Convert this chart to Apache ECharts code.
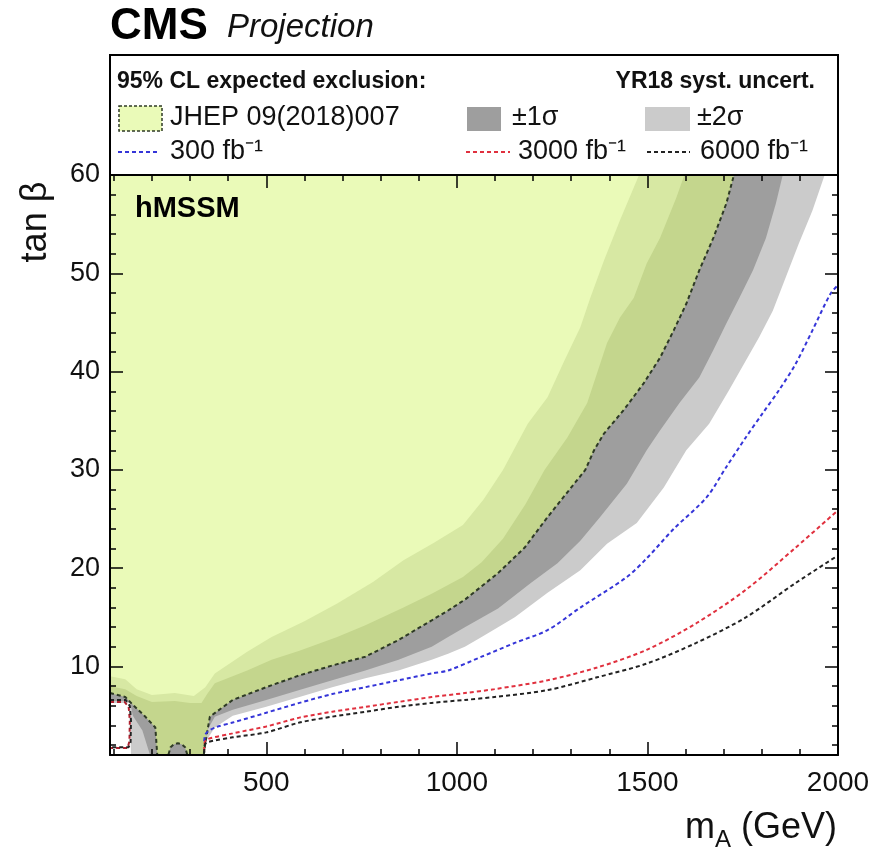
<!DOCTYPE html>
<html>
<head>
<meta charset="utf-8">
<title>CMS Projection hMSSM</title>
<script src="https://cdn.jsdelivr.net/npm/echarts@6/dist/echarts.min.js"></script>
<style>
html, body { margin: 0; padding: 0; background: #fff; }
#main { width: 877px; height: 850px; }
</style>
</head>
<body>
<div id="main"></div>
<script>
// contours, [mA (GeV), tan beta]
var jhepInner = [[90, 9.0], [130, 8.7], [160, 7.7], [200, 7.1], [260, 7.3], [310, 7.0], [340, 7.9], [365, 9.3], [450, 11.5], [514, 13.0], [600, 14.6], [686, 16.4], [780, 18.6], [860, 20.8], [940, 22.6], [1016, 24.4], [1070, 27.0], [1121, 30.0], [1186, 34.7], [1238, 37.4], [1282, 41.1], [1324, 44.5], [1350, 47.5], [1386, 51.3], [1428, 55.4], [1478, 60]]
var jhepMid = [[90, 8.0], [130, 7.7], [160, 7.0], [200, 6.4], [260, 6.5], [300, 6.3], [330, 6.3], [345, 7.2], [365, 8.3], [450, 9.6], [514, 10.7], [587, 11.6], [686, 13.0], [760, 14.2], [860, 16.0], [934, 17.4], [1016, 19.1], [1065, 20.6], [1121, 23.0], [1180, 26.5], [1230, 30.0], [1290, 33.3], [1342, 36.8], [1376, 40.8], [1394, 42.9], [1428, 45.5], [1464, 47.5], [1498, 51.0], [1533, 53.6], [1576, 57.7], [1597, 60]]
var jhepExp = [[90, 7.3], [130, 6.9], [150, 6.1], [180, 5.0], [209, 3.8], [214, 1.0], [243, 1.0], [249, 1.8], [258, 2.1], [268, 2.2], [278, 2.1], [287, 1.8], [293, 1.0], [336, 1.0], [340, 2.2], [352, 4.9], [412, 6.6], [500, 7.9], [587, 9.1], [673, 10.1], [760, 11.0], [847, 12.7], [934, 14.7], [977, 15.7], [1021, 16.8], [1108, 19.5], [1178, 22.1], [1238, 25.2], [1308, 28.6], [1337, 30.0], [1360, 32.0], [1386, 33.7], [1438, 36.1], [1490, 38.8], [1533, 41.4], [1569, 44.2], [1602, 46.9], [1636, 50.3], [1673, 53.6], [1707, 57.1], [1727, 60]]
var sigma1Edge = [[90, 6.5], [142, 6.5], [150, 5.0], [175, 3.5], [195, 1.0], [338, 1.0], [345, 3.5], [365, 4.9], [412, 5.6], [500, 6.6], [587, 7.6], [673, 8.6], [760, 9.6], [847, 10.7], [934, 12.0], [977, 13.0], [1021, 14.0], [1108, 15.9], [1194, 18.5], [1264, 20.5], [1324, 22.8], [1376, 25.2], [1446, 28.6], [1498, 32.0], [1533, 34.0], [1584, 36.8], [1636, 39.4], [1673, 42.2], [1707, 44.9], [1741, 47.5], [1777, 50.3], [1811, 53.6], [1837, 57.1], [1855, 60]]
var sigma2Edge = [[90, 6.3], [142, 6.3], [145, 1.0], [338, 1.0], [345, 2.6], [365, 3.8], [412, 5.0], [500, 5.9], [587, 6.9], [673, 7.9], [760, 8.8], [847, 9.6], [934, 10.7], [977, 11.3], [1021, 12.0], [1065, 13.0], [1108, 14.0], [1152, 15.0], [1238, 17.5], [1324, 19.8], [1394, 22.5], [1472, 24.6], [1543, 28.2], [1602, 32.0], [1662, 34.7], [1714, 38.1], [1758, 41.1], [1793, 43.5], [1829, 46.2], [1863, 49.6], [1897, 53.0], [1933, 56.4], [1965, 60]]
var lumi300 = [[337, 2.4], [342, 3.2], [366, 3.8], [412, 4.3], [500, 5.3], [587, 6.3], [673, 7.2], [760, 7.9], [847, 8.6], [934, 9.3], [977, 9.6], [1065, 11.0], [1152, 12.4], [1238, 13.7], [1324, 16.0], [1446, 19.1], [1498, 21.0], [1569, 24.0], [1655, 27.2], [1707, 30.3], [1758, 33.3], [1803, 35.8], [1845, 38.1], [1889, 40.8], [1933, 44.2], [1980, 47.9], [2000, 48.8]]
var lumi3000 = [[337, 1.4], [338, 2.2], [345, 2.6], [412, 3.2], [500, 3.9], [587, 4.8], [673, 5.4], [760, 5.9], [847, 6.4], [934, 6.9], [1021, 7.3], [1099, 7.7], [1238, 8.6], [1368, 9.9], [1498, 11.7], [1628, 14.4], [1758, 17.8], [1889, 22.1], [2000, 25.9]]
var lumi3000Low = [[90, 6.4], [128, 6.4], [139, 5.9], [142, 4.5], [141, 2.4], [136, 1.7], [90, 1.7]]
var lumi6000 = [[337, 1.2], [338, 2.0], [345, 2.3], [412, 2.8], [500, 3.3], [587, 4.3], [673, 4.9], [760, 5.4], [847, 5.9], [934, 6.3], [1021, 6.6], [1099, 6.9], [1238, 7.6], [1368, 8.9], [1498, 10.3], [1628, 12.4], [1758, 15.0], [1889, 18.5], [2000, 21.3]]
var lumi6000Low = [[90, 6.6], [131, 6.6], [142, 6.0], [145, 4.5], [144, 2.3], [139, 1.8], [90, 1.8]]

var xMajor = [500, 1000, 1500, 2000]
var xMinor = [100, 200, 300, 400, 600, 700, 800, 900, 1100, 1200, 1300, 1400, 1600, 1700, 1800, 1900]
var yMajor = [10, 20, 30, 40, 50, 60]
var yMinor = [2, 4, 6, 8, 12, 14, 16, 18, 22, 24, 26, 28, 32, 34, 36, 38, 42, 44, 46, 48, 52, 54, 56, 58]

var FONT = '"Liberation Sans", Arial, Helvetica, sans-serif'
var colA = '#eafab8'
var colB = '#d7e8a3'
var colC = '#c4d68d'
var col1s = '#9e9e9e'
var col2s = '#cbcbcb'
var colExp = '#2e3a25'

function plain (v) { return String(v) }

function xAx (pos, ticks, len, labels, line) {
  return {
    type: 'value', min: 90, max: 2000, position: pos, z: 10,
    axisLine: { show: line, lineStyle: { color: '#000', width: 2 } },
    axisTick: { inside: true, length: len, customValues: ticks, lineStyle: { color: '#000', width: 1.5 } },
    axisLabel: labels ? { customValues: ticks, formatter: plain, margin: 14, fontSize: 28, fontFamily: FONT, color: '#111' } : { show: false },
    splitLine: { show: false }
  }
}
function yAx (pos, ticks, len, labels, line) {
  return {
    type: 'value', min: 1, max: 60, position: pos, z: 10,
    axisLine: { show: line, lineStyle: { color: '#000', width: 2 } },
    axisTick: { inside: true, length: len, customValues: ticks, lineStyle: { color: '#000', width: 1.5 } },
    axisLabel: labels ? { customValues: ticks, formatter: plain, margin: 10, fontSize: 27, fontFamily: FONT, color: '#111' } : { show: false },
    splitLine: { show: false }
  }
}
function band (data, color) {
  return {
    type: 'line', data: data, symbol: 'none', silent: true,
    lineStyle: { width: 0, opacity: 0 },
    areaStyle: { color: color, opacity: 1, origin: 'end' }
  }
}
function dashed (data, color, smooth) {
  return {
    type: 'line', data: data, symbol: 'none', silent: true, z: 5, smooth: smooth || false,
    lineStyle: { color: color, width: 2, type: [4, 3] }
  }
}
function txt (x, y, text, size, extra) {
  var style = { text: text, fontSize: size, fontFamily: FONT, fill: '#111', align: 'left', verticalAlign: 'middle', textAlign: 'left', textVerticalAlign: 'middle' }
  for (var k in extra) style[k] = extra[k]
  return { type: 'text', x: x, y: y, z: 100, style: style }
}

var chart = echarts.init(document.getElementById('main'))
var option = {
  animation: false,
  backgroundColor: '#fff',
  grid: { left: 110, right: 39, top: 175, bottom: 95 },
  xAxis: [
    xAx('bottom', xMajor, 13, true, true),
    xAx('bottom', xMinor, 6, false, false),
    xAx('top', xMajor, 13, false, true),
    xAx('top', xMinor, 6, false, false)
  ],
  yAxis: [
    yAx('left', yMajor, 13, true, true),
    yAx('left', yMinor, 6, false, false),
    yAx('right', yMajor, 13, false, true),
    yAx('right', yMinor, 6, false, false)
  ],
  series: [
    band(sigma2Edge, col2s),
    band(sigma1Edge, col1s),
    band(jhepExp, colC),
    band(jhepMid, colB),
    band(jhepInner, colA),
    dashed(jhepExp, colExp),
    dashed(lumi300, '#3535d8', 0.3),
    dashed(lumi3000, '#e0303e', 0.3),
    dashed(lumi3000Low, '#b0202e'),
    dashed(lumi6000, '#222', 0.3),
    dashed(lumi6000Low, '#222')
  ],
  graphic: [
    txt(110, 27, 'CMS', 44, { fontWeight: 'bold', fill: '#000' }),
    txt(227, 28, 'Projection', 33, { fontStyle: 'italic' }),
    { type: 'rect', z: 50, shape: { x: 110, y: 55, width: 728, height: 120 }, style: { fill: '#fff', stroke: '#000', lineWidth: 2 } },
    txt(117, 82, '95% CL expected exclusion:', 23, { fontWeight: 'bold' }),
    txt(815, 82, 'YR18 syst. uncert.', 23, { fontWeight: 'bold', align: 'right', textAlign: 'right' }),
    { type: 'rect', z: 100, shape: { x: 119, y: 106, width: 43, height: 25 }, style: { fill: colA, stroke: colExp, lineWidth: 1.5, lineDash: [3, 2] } },
    txt(170, 118, 'JHEP 09(2018)007', 27),
    { type: 'rect', z: 100, shape: { x: 467, y: 107, width: 34, height: 24 }, style: { fill: col1s } },
    txt(512, 118, '±1σ', 27),
    { type: 'rect', z: 100, shape: { x: 645, y: 107, width: 45, height: 24 }, style: { fill: col2s } },
    txt(697, 118, '±2σ', 27),
    { type: 'line', z: 100, shape: { x1: 118, y1: 152, x2: 160, y2: 152 }, style: { stroke: '#3535d8', lineWidth: 2, lineDash: [4, 3] } },
    txt(170, 152, '300 fb⁻¹', 27),
    { type: 'line', z: 100, shape: { x1: 466, y1: 152, x2: 510, y2: 152 }, style: { stroke: '#e0303e', lineWidth: 2, lineDash: [4, 3] } },
    txt(518, 152, '3000 fb⁻¹', 27),
    { type: 'line', z: 100, shape: { x1: 647, y1: 152, x2: 690, y2: 152 }, style: { stroke: '#222', lineWidth: 2, lineDash: [4, 3] } },
    txt(700, 152, '6000 fb⁻¹', 27),
    txt(135, 209, 'hMSSM', 29, { fontWeight: 'bold', fill: '#000' }),
    { type: 'text', x: 36, y: 222, z: 100, rotation: Math.PI / 2, style: { text: 'tan β', fontSize: 36, fontFamily: FONT, fill: '#111', align: 'center', verticalAlign: 'middle', textAlign: 'center', textVerticalAlign: 'middle' } },
    txt(837, 828, '(GeV)', 36, { align: 'right', textAlign: 'right' }),
    txt(715, 840, 'A', 24),
    txt(685, 828, 'm', 36)
  ]
}
chart.setOption(option)
</script>
</body>
</html>
